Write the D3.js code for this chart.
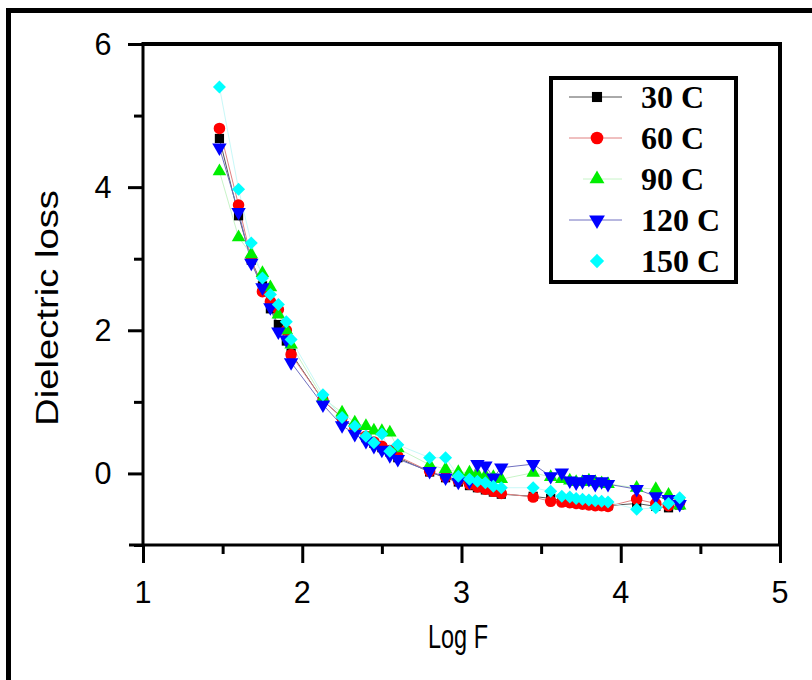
<!DOCTYPE html>
<html lang="en">
<head>
<meta charset="utf-8">
<title>Dielectric loss vs Log F</title>
<script src="https://d3js.org/d3.v7.min.js"></script>
<style>
  body { margin: 0; background: #fff; }
  .tick-label { font-family: "Liberation Sans", Arial, sans-serif; fill: #000; }
  .legend-text { font-family: "Liberation Serif", "Times New Roman", serif; font-weight: bold; font-size: 32px; fill: #000; }
</style>
</head>
<body>
<svg id="chart" width="812" height="680"></svg>
<script>
// log frequency (shared by all temperatures)
var logF = [1.48, 1.6, 1.68, 1.75, 1.8, 1.85, 1.9, 1.93, 2.13, 2.25, 2.33, 2.4, 2.45, 2.5, 2.55, 2.6,
            2.8, 2.9, 2.98, 3.05, 3.1, 3.15, 3.2, 3.25, 3.45, 3.56, 3.63, 3.68, 3.72, 3.76, 3.8, 3.84,
            3.88, 3.92, 4.1, 4.22, 4.3, 4.37];

var loss30 = [4.68, 3.6, 2.98, 2.62, 2.3, 2.08, 1.85, 1.68, 1.02, 0.78, 0.62, 0.5, 0.42, 0.36, 0.3, 0.22,
              0.02, -0.06, -0.12, -0.17, -0.2, -0.23, -0.26, -0.29, -0.32, -0.35, -0.38, -0.4, -0.41, -0.42, -0.43, -0.44,
              -0.44, -0.45, -0.42, -0.46, -0.48, -0.44];
var loss60 = [4.82, 3.75, 3.0, 2.54, 2.4, 2.29, 2.0, 1.66, 1.02, 0.78, 0.64, 0.52, 0.44, 0.38, 0.32, 0.24,
              0.03, -0.05, -0.1, -0.15, -0.19, -0.22, -0.25, -0.28, -0.33, -0.39, -0.4, -0.41, -0.42, -0.43, -0.44, -0.45,
              -0.45, -0.46, -0.36, -0.42, -0.45, -0.4];
var loss90 = [4.22, 3.3, 3.06, 2.8, 2.6, 2.22, 2.0, 1.8, 1.05, 0.85, 0.71, 0.66, 0.6, 0.59, 0.57, 0.35,
              0.12, 0.06, 0.02, 0.01, -0.01, -0.03, -0.05, -0.08, 0.01, -0.05, -0.08, -0.1, -0.12, -0.12, -0.1, -0.12,
              -0.14, -0.15, -0.2, -0.22, -0.3, -0.45];
var loss120 = [4.55, 3.65, 2.94, 2.6, 2.32, 1.98, 1.87, 1.55, 0.96, 0.67, 0.55, 0.45, 0.38, 0.33, 0.25, 0.2,
               0.03, -0.06, -0.12, -0.11, 0.13, 0.11, -0.06, 0.08, 0.13, -0.04, 0.01, -0.1, -0.13, -0.11, -0.08, -0.15,
               -0.11, -0.15, -0.22, -0.32, -0.36, -0.43];
var loss150 = [5.4, 3.97, 3.22, 2.73, 2.5, 2.36, 2.12, 1.87, 1.1, 0.78, 0.66, 0.52, 0.43, 0.55, 0.31, 0.4,
               0.22, 0.22, -0.04, -0.08, -0.11, -0.13, -0.18, -0.2, -0.2, -0.25, -0.32, -0.33, -0.35, -0.36, -0.37, -0.38,
               -0.39, -0.4, -0.5, -0.48, -0.42, -0.34];

var seriesNames = ["30 C", "60 C", "90 C", "120 C", "150 C"];
var xTicks = [1, 2, 3, 4, 5];
var yTicks = [0, 2, 4, 6];

var allLoss = [loss30, loss60, loss90, loss120, loss150];
var markerColor = ["#000000", "#ff0000", "#00ee00", "#0000ff", "#00ffff"];
var lineColor = ["#555555", "#e08080", "#c8f4c8", "#7070c0", "#c8f8f8"];
var markerType = [d3.symbolSquare, d3.symbolCircle, d3.symbolTriangle, d3.symbolTriangle, d3.symbolSquare];
var markerRot = [0, 0, 0, 180, 45];
var markerSize = [85, 105, 80, 90, 85];

var svg = d3.select("#chart");
var pLeft = 143, pRight = 780, pTop = 44, pBottom = 545;

var x = d3.scaleLinear().domain([1, 5]).range([pLeft, pRight]);
var y = d3.scaleLinear().domain([-1, 6]).range([pBottom, pTop]);

// outer frame, running off the right and bottom edges
svg.append("rect")
  .attr("x", 8.5).attr("y", 10.5)
  .attr("width", 900).attr("height", 900)
  .attr("fill", "none").attr("stroke", "#000").attr("stroke-width", 5);

// top and right box lines
svg.append("line").attr("x1", pLeft).attr("x2", pRight + 2).attr("y1", pTop).attr("y2", pTop)
  .attr("stroke", "#000").attr("stroke-width", 4);
svg.append("line").attr("x1", pRight).attr("x2", pRight).attr("y1", pTop).attr("y2", pBottom)
  .attr("stroke", "#000").attr("stroke-width", 4);

// x axis
var xAxis = svg.append("g").attr("transform", "translate(0," + pBottom + ")");
xAxis.call(d3.axisBottom(x).tickValues(d3.range(1, 5.01, 0.5)).tickSize(18).tickFormat(""));
xAxis.select(".domain").attr("stroke-width", 3).attr("d", "M" + (pLeft - 14) + ",0H" + (pRight + 2));
xAxis.selectAll(".tick line").attr("stroke-width", 3)
  .attr("y2", function(d) { return d % 1 === 0 ? 18 : 9; });
svg.append("g").selectAll("text").data(xTicks).enter().append("text")
  .attr("class", "tick-label")
  .attr("x", function(d) { return x(d); })
  .attr("y", 603)
  .attr("text-anchor", "middle")
  .attr("font-size", 32)
  .attr("textLength", 17).attr("lengthAdjust", "spacingAndGlyphs")
  .text(function(d) { return d; });

// y axis
var yAxis = svg.append("g").attr("transform", "translate(" + pLeft + ",0)");
yAxis.call(d3.axisLeft(y).tickValues(d3.range(-1, 6.01, 1)).tickSize(15).tickFormat(""));
yAxis.select(".domain").attr("stroke-width", 3).attr("d", "M0," + (pTop - 2) + "V" + pBottom);
yAxis.selectAll(".tick line").attr("stroke-width", 3)
  .attr("x2", function(d) { return d % 2 === 0 ? -15 : -9; });
svg.append("g").selectAll("text").data(yTicks).enter().append("text")
  .attr("class", "tick-label")
  .attr("x", pLeft - 40)
  .attr("y", function(d) { return y(d) + 11; })
  .attr("text-anchor", "middle")
  .attr("font-size", 32)
  .attr("textLength", 17).attr("lengthAdjust", "spacingAndGlyphs")
  .text(function(d) { return d; });

// axis titles
svg.append("text").attr("class", "tick-label")
  .attr("x", 458).attr("y", 648)
  .attr("text-anchor", "middle").attr("font-size", 34)
  .attr("textLength", 60).attr("lengthAdjust", "spacingAndGlyphs")
  .text("Log F");
svg.append("text").attr("class", "tick-label")
  .attr("transform", "translate(58,308) rotate(-90)")
  .attr("text-anchor", "middle").attr("font-size", 32)
  .attr("textLength", 236).attr("lengthAdjust", "spacingAndGlyphs")
  .text("Dielectric loss");

// series: thin connecting lines first, then markers
var line = d3.line().x(function(d) { return x(d[0]); }).y(function(d) { return y(d[1]); });

allLoss.forEach(function(vals, i) {
  var pts = logF.map(function(f, k) { return [f, vals[k]]; });
  svg.append("path")
    .datum(pts)
    .attr("d", line)
    .attr("fill", "none")
    .attr("stroke", lineColor[i])
    .attr("stroke-width", 1);
});

allLoss.forEach(function(vals, i) {
  var pts = logF.map(function(f, k) { return [f, vals[k]]; });
  svg.append("g").selectAll("path")
    .data(pts)
    .enter().append("path")
      .attr("d", d3.symbol().type(markerType[i]).size(markerSize[i]))
      .attr("transform", function(d) {
        return "translate(" + x(d[0]) + "," + y(d[1]) + ") rotate(" + markerRot[i] + ")";
      })
      .attr("fill", markerColor[i]);
});

// legend
var legend = svg.append("g");
legend.append("rect")
  .attr("x", 551).attr("y", 78).attr("width", 185).attr("height", 204)
  .attr("fill", "#fff").attr("stroke", "#000").attr("stroke-width", 4);

seriesNames.forEach(function(name, i) {
  var cy = 97 + i * 41;
  var row = legend.append("g");
  if (i < 4) {
    row.append("line")
      .attr("x1", i === 2 ? 583 : 569).attr("x2", 622)
      .attr("y1", cy).attr("y2", cy)
      .attr("stroke", lineColor[i]).attr("stroke-width", 1);
  }
  row.append("path")
    .attr("d", d3.symbol().type(markerType[i]).size(markerSize[i] * 1.2))
    .attr("transform", "translate(597," + cy + ") rotate(" + markerRot[i] + ")")
    .attr("fill", markerColor[i]);
  row.append("text")
    .attr("class", "legend-text")
    .attr("x", 641).attr("y", cy + 11)
    .text(name);
});
</script>
</body>
</html>
